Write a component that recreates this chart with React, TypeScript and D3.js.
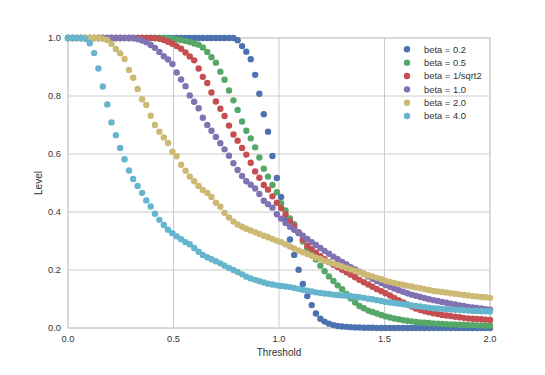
import React from "react";
import * as d3 from "d3";

const THRESHOLDS = [
  0, 0.021, 0.041, 0.062, 0.082, 0.103, 0.124, 0.144, 0.165, 0.186,
  0.206, 0.227, 0.247, 0.268, 0.289, 0.309, 0.33, 0.351, 0.371, 0.392,
  0.412, 0.433, 0.454, 0.474, 0.495, 0.515, 0.536, 0.557, 0.577, 0.598,
  0.619, 0.639, 0.66, 0.68, 0.701, 0.722, 0.742, 0.763, 0.784, 0.804,
  0.825, 0.845, 0.866, 0.887, 0.907, 0.928, 0.948, 0.969, 0.99, 1.01,
  1.031, 1.052, 1.072, 1.093, 1.113, 1.134, 1.155, 1.175, 1.196, 1.216,
  1.237, 1.258, 1.278, 1.299, 1.32, 1.34, 1.361, 1.381, 1.402, 1.423,
  1.443, 1.464, 1.485, 1.505, 1.526, 1.546, 1.567, 1.588, 1.608, 1.629,
  1.649, 1.67, 1.691, 1.711, 1.732, 1.753, 1.773, 1.794, 1.814, 1.835,
  1.856, 1.876, 1.897, 1.918, 1.938, 1.959, 1.979, 2.0,
];

const BETA_02 = [
  1, 1, 1, 1, 1, 1, 1, 1, 1, 1,
  1, 1, 1, 1, 1, 1, 1, 1, 1, 1,
  1, 1, 1, 1, 1, 1, 1, 1, 1, 1,
  1, 1, 1, 1, 1, 1, 1, 1, 1, 0.992,
  0.972, 0.953, 0.927, 0.873, 0.808, 0.737, 0.677, 0.593, 0.517, 0.452,
  0.377, 0.305, 0.252, 0.201, 0.152, 0.11, 0.079, 0.05, 0.032, 0.022,
  0.015, 0.01, 0.007, 0.005, 0.004, 0.003, 0.002, 0.002, 0.001, 0.001,
  0.001, 0, 0, 0, 0, 0, 0, 0, 0, 0,
  0, 0, 0, 0, 0, 0, 0, 0, 0, 0,
  0, 0, 0, 0, 0, 0, 0, 0,
];

const BETA_05 = [
  1, 1, 1, 1, 1, 1, 1, 1, 1, 1,
  1, 1, 1, 1, 1, 1, 1, 1, 1, 1,
  1, 1, 1, 1, 0.998, 0.995, 0.993, 0.99, 0.986, 0.981,
  0.977, 0.967, 0.952, 0.934, 0.915, 0.884, 0.856, 0.819, 0.785, 0.752,
  0.712, 0.68, 0.654, 0.623, 0.588, 0.549, 0.522, 0.493, 0.468, 0.43,
  0.405, 0.378, 0.358, 0.327, 0.298, 0.275, 0.256, 0.236, 0.215, 0.196,
  0.178, 0.162, 0.147, 0.134, 0.117, 0.102, 0.088, 0.076, 0.068, 0.06,
  0.055, 0.05, 0.045, 0.04, 0.036, 0.033, 0.03, 0.027, 0.025, 0.023,
  0.021, 0.019, 0.018, 0.017, 0.016, 0.015, 0.014, 0.013, 0.012, 0.012,
  0.011, 0.011, 0.01, 0.01, 0.009, 0.009, 0.008, 0.008,
];

const BETA_INV_SQRT2 = [
  1, 1, 1, 1, 1, 1, 1, 1, 1, 1,
  1, 1, 1, 1, 1, 1, 1, 1, 1, 1,
  1, 0.997, 0.993, 0.987, 0.98, 0.972, 0.963, 0.95, 0.936, 0.923,
  0.895, 0.866, 0.845, 0.812, 0.781, 0.756, 0.731, 0.698, 0.667, 0.646,
  0.621, 0.598, 0.57, 0.54, 0.518, 0.493, 0.477, 0.454, 0.432, 0.414,
  0.392, 0.368, 0.351, 0.33, 0.305, 0.284, 0.272, 0.26, 0.248, 0.237,
  0.227, 0.218, 0.21, 0.201, 0.192, 0.184, 0.175, 0.166, 0.158, 0.15,
  0.142, 0.134, 0.127, 0.12, 0.112, 0.104, 0.096, 0.088, 0.081, 0.074,
  0.067, 0.062, 0.058, 0.054, 0.051, 0.048, 0.045, 0.043, 0.041, 0.039,
  0.037, 0.035, 0.033, 0.032, 0.031, 0.03, 0.029, 0.028,
];

const BETA_10 = [
  1, 1, 1, 1, 1, 1, 1, 1, 1, 1,
  1, 1, 1, 1, 1, 1, 0.996, 0.991, 0.985, 0.976,
  0.966, 0.952, 0.937, 0.926, 0.91, 0.881, 0.857, 0.834, 0.802, 0.78,
  0.758, 0.725, 0.7, 0.68, 0.659, 0.637, 0.616, 0.594, 0.568, 0.545,
  0.524, 0.506, 0.494, 0.481, 0.462, 0.439, 0.427, 0.415, 0.392, 0.377,
  0.362, 0.349, 0.339, 0.328, 0.318, 0.307, 0.296, 0.286, 0.276, 0.266,
  0.256, 0.246, 0.237, 0.228, 0.219, 0.21, 0.202, 0.194, 0.186, 0.178,
  0.17, 0.162, 0.155, 0.148, 0.142, 0.136, 0.13, 0.125, 0.12, 0.115,
  0.111, 0.107, 0.103, 0.099, 0.096, 0.093, 0.09, 0.087, 0.084, 0.081,
  0.078, 0.076, 0.073, 0.071, 0.069, 0.067, 0.065, 0.063,
];

const BETA_20 = [
  1, 1, 1, 1, 1, 1, 1, 1, 0.998, 0.993,
  0.98, 0.962, 0.947, 0.928, 0.89, 0.863, 0.824, 0.789, 0.769, 0.732,
  0.7, 0.677, 0.657, 0.638, 0.608, 0.592, 0.563, 0.542, 0.522, 0.506,
  0.49, 0.476, 0.466, 0.452, 0.432, 0.418, 0.397, 0.381, 0.367, 0.357,
  0.349, 0.342, 0.336, 0.33, 0.324, 0.318, 0.313, 0.307, 0.301, 0.296,
  0.289, 0.281, 0.274, 0.267, 0.261, 0.255, 0.249, 0.243, 0.238, 0.232,
  0.227, 0.222, 0.217, 0.212, 0.207, 0.202, 0.197, 0.192, 0.187, 0.182,
  0.178, 0.173, 0.168, 0.163, 0.159, 0.155, 0.152, 0.149, 0.146, 0.143,
  0.14, 0.137, 0.134, 0.131, 0.128, 0.126, 0.124, 0.122, 0.12, 0.118,
  0.116, 0.114, 0.112, 0.11, 0.109, 0.107, 0.106, 0.104,
];

const BETA_40 = [
  1, 1, 1, 1, 0.997, 0.982, 0.948, 0.895, 0.833, 0.771,
  0.709, 0.665, 0.621, 0.582, 0.543, 0.514, 0.49, 0.466, 0.44, 0.419,
  0.394, 0.373, 0.355, 0.339, 0.327, 0.316, 0.306, 0.296, 0.289, 0.276,
  0.263, 0.252, 0.244, 0.237, 0.23, 0.223, 0.215, 0.207, 0.2, 0.193,
  0.185, 0.177, 0.171, 0.166, 0.161, 0.157, 0.153, 0.15, 0.147, 0.145,
  0.143, 0.141, 0.138, 0.135, 0.132, 0.129, 0.126, 0.123, 0.121, 0.119,
  0.117, 0.115, 0.114, 0.112, 0.111, 0.11, 0.108, 0.106, 0.104, 0.101,
  0.099, 0.096, 0.093, 0.09, 0.088, 0.086, 0.084, 0.082, 0.08, 0.078,
  0.076, 0.074, 0.072, 0.07, 0.068, 0.067, 0.066, 0.065, 0.064, 0.063,
  0.062, 0.061, 0.06, 0.059, 0.059, 0.058, 0.058, 0.057,
];

const SERIES_LABELS = ["beta = 0.2", "beta = 0.5", "beta = 1/sqrt2", "beta = 1.0", "beta = 2.0", "beta = 4.0"];
const SERIES_VALUES = [BETA_02, BETA_05, BETA_INV_SQRT2, BETA_10, BETA_20, BETA_40];
const COLORS = ["#4C72B0", "#55A868", "#C44E52", "#8172B2", "#CCB974", "#64B5CD"];
const X_TICKS = [0, 0.5, 1.0, 1.5, 2.0];
const Y_TICKS = [0, 0.2, 0.4, 0.6, 0.8, 1.0];

const W = 545;
const H = 375;
const LEFT = 68;
const RIGHT = 490;
const TOP = 38;
const BOTTOM = 328;
const FONT = "'Liberation Sans', Arial, sans-serif";
const GRID = "#cccccc";
const TEXT = "#333333";

export default function App() {
  const x = d3.scaleLinear().domain([0, 2]).range([LEFT, RIGHT]);
  const y = d3.scaleLinear().domain([0, 1]).range([BOTTOM, TOP]);
  const fmt = d3.format(".1f");

  return (
    <svg
      width={W}
      height={H}
      style={{ position: "absolute", left: 0, top: 0, background: "#fff" }}
      fontFamily={FONT}
    >
      <rect x={0} y={0} width={W} height={H} fill="#fff" />
      {X_TICKS.map((t) => (
        <line key={"gx" + t} x1={x(t)} x2={x(t)} y1={TOP} y2={BOTTOM} stroke={GRID} strokeWidth={1} />
      ))}
      {Y_TICKS.map((t) => (
        <line key={"gy" + t} x1={LEFT} x2={RIGHT} y1={y(t)} y2={y(t)} stroke={GRID} strokeWidth={1} />
      ))}
      <rect x={LEFT} y={TOP} width={RIGHT - LEFT} height={BOTTOM - TOP} fill="none" stroke={GRID} strokeWidth={1} />

      {SERIES_VALUES.map((vals, si) => (
        <g key={"s" + si} fill={COLORS[si]}>
          {vals.map((v, i) => (
            <circle key={i} cx={x(THRESHOLDS[i])} cy={y(v)} r={3.2} />
          ))}
        </g>
      ))}

      {X_TICKS.map((t) => (
        <text key={"tx" + t} x={x(t)} y={342} textAnchor="middle" fontSize={9.3} fill={TEXT}>
          {fmt(t)}
        </text>
      ))}
      {Y_TICKS.map((t) => (
        <text key={"ty" + t} x={61} y={y(t)} dy="0.35em" textAnchor="end" fontSize={9.3} fill={TEXT}>
          {fmt(t)}
        </text>
      ))}
      <text x={(LEFT + RIGHT) / 2} y={356} textAnchor="middle" fontSize={10} fill={TEXT}>
        Threshold
      </text>
      <text
        transform={`translate(42, ${(TOP + BOTTOM) / 2}) rotate(-90)`}
        textAnchor="middle"
        fontSize={10}
        fill={TEXT}
      >
        Level
      </text>

      {SERIES_LABELS.map((lab, i) => (
        <g key={"l" + i} transform={`translate(407, ${49.3 + i * 13.35})`}>
          <circle cx={0} cy={0} r={3.2} fill={COLORS[i]} />
          <text x={17} y={0} dy="0.35em" fontSize={9.4} fill={TEXT}>
            {lab}
          </text>
        </g>
      ))}
    </svg>
  );
}
